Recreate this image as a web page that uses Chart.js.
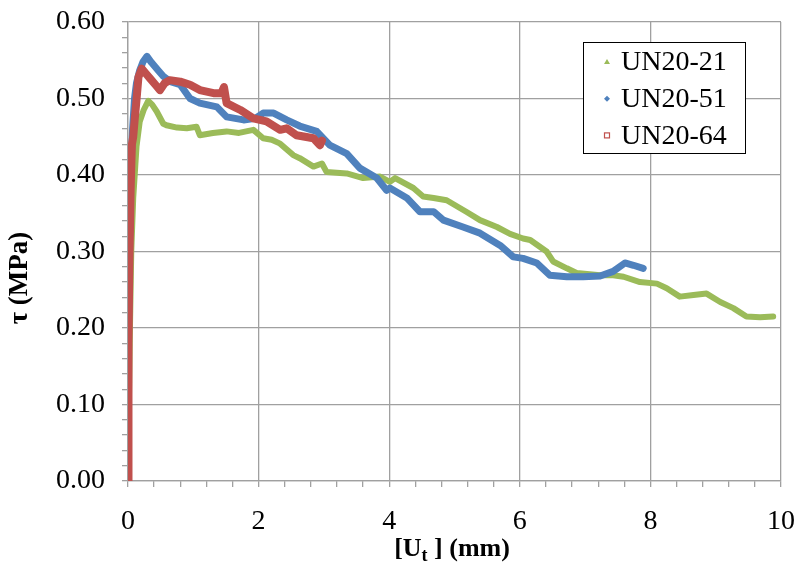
<!DOCTYPE html>
<html lang="en">
<head>
    <meta charset="UTF-8">
    <title>UN20 shear stress vs slip</title>
    <style>
        body {
            margin: 0;
            background: #ffffff;
        }
        #wrap {
            width: 799px;
            height: 567px;
        }
    </style>
</head>
<body>
    <div id="wrap">
        <canvas id="chart" width="799" height="567"></canvas>
    </div>

    <script src="https://cdn.jsdelivr.net/npm/chart.js"></script>

    <script>
        // series names
        const seriesNames = ['UN20-21', 'UN20-51', 'UN20-64'];

        // UN20-21 (green)
        const un21X = [0, 0.01, 0.03, 0.05, 0.08, 0.11, 0.13, 0.18, 0.24, 0.31, 0.37, 0.44, 0.54, 0.59, 0.75,
            0.90, 1.05, 1.10, 1.30, 1.51, 1.70, 1.92, 2.07, 2.20, 2.33, 2.53, 2.63, 2.84, 2.97, 3.04,
            3.35, 3.60, 3.86, 4.01, 4.09, 4.37, 4.52, 4.68, 4.88, 5.18, 5.39, 5.65, 5.85, 6.05, 6.16,
            6.41, 6.51, 6.72, 6.87, 7.23, 7.43, 7.59, 7.84, 8.10, 8.25, 8.45, 8.66, 8.86, 9.07, 9.27,
            9.47, 9.68, 9.88];
        const un21Y = [0, 0.08, 0.20, 0.30, 0.37, 0.41, 0.437, 0.47, 0.485, 0.497, 0.492, 0.483, 0.467, 0.465, 0.462,
            0.461, 0.463, 0.452, 0.455, 0.457, 0.455, 0.459, 0.448, 0.446, 0.441, 0.426, 0.422, 0.411, 0.415, 0.404,
            0.402, 0.396, 0.398, 0.391, 0.396, 0.383, 0.372, 0.370, 0.367, 0.352, 0.341, 0.332, 0.323, 0.317, 0.315,
            0.300, 0.287, 0.278, 0.272, 0.269, 0.269, 0.267, 0.260, 0.258, 0.252, 0.241, 0.243, 0.245, 0.234, 0.226,
            0.215, 0.214, 0.215];

        // UN20-51 (blue)
        const un51X = [0, 0.005, 0.01, 0.02, 0.04, 0.07, 0.10, 0.13, 0.18, 0.23, 0.29, 0.36, 0.46, 0.54, 0.65,
            0.80, 0.95, 1.10, 1.36, 1.51, 1.77, 1.95, 2.07, 2.23, 2.43, 2.63, 2.89, 3.09, 3.35, 3.55,
            3.81, 3.96, 4.01, 4.27, 4.47, 4.68, 4.83, 5.13, 5.39, 5.70, 5.90, 6.05, 6.26, 6.46, 6.72,
            6.97, 7.23, 7.43, 7.61, 7.74, 7.89];
        const un51Y = [0, 0.10, 0.20, 0.30, 0.40, 0.46, 0.50, 0.52, 0.537, 0.548, 0.555, 0.547, 0.537, 0.529, 0.522,
            0.518, 0.500, 0.494, 0.489, 0.476, 0.472, 0.474, 0.481, 0.481, 0.472, 0.464, 0.457, 0.439, 0.428, 0.409,
            0.396, 0.380, 0.383, 0.370, 0.352, 0.352, 0.341, 0.332, 0.324, 0.308, 0.293, 0.291, 0.285, 0.269, 0.267,
            0.267, 0.268, 0.274, 0.285, 0.282, 0.278];

        // UN20-64 (red)
        const un64X = [0, 0.005, 0.01, 0.02, 0.04, 0.06, 0.08, 0.10, 0.13, 0.16, 0.21, 0.27, 0.34, 0.42, 0.49,
            0.56, 0.64, 0.80, 0.95, 1.10, 1.31, 1.43, 1.47, 1.51, 1.72, 1.92, 2.12, 2.33, 2.43, 2.58,
            2.84, 2.94, 2.97];
        const un64Y = [0, 0.08, 0.18, 0.28, 0.38, 0.44, 0.45, 0.47, 0.498, 0.528, 0.539, 0.533, 0.526, 0.518, 0.511,
            0.52, 0.524, 0.522, 0.518, 0.511, 0.507, 0.507, 0.515, 0.494, 0.485, 0.474, 0.470, 0.459, 0.461, 0.452,
            0.448, 0.439, 0.445];

        const xTicksMajor = [0, 2, 4, 6, 8, 10];
        const yTicksMajor = [0.00, 0.10, 0.20, 0.30, 0.40, 0.50, 0.60];
        const yTitle = 'τ (MPa)';

        const colors = ['#9BBB59', '#4F81BD', '#C0504D'];
        const gridGray = '#A0A0A0';
        const serif = '"Liberation Serif", "Times New Roman", serif';

        function pairs(xs, ys) {
            return xs.map((x, i) => ({ x: x, y: ys[i] }));
        }

        function isMajor(v, list) {
            return list.some(m => Math.abs(m - v) < 1e-6);
        }

        function drawMarker(ctx, kind, x, y, color) {
            ctx.fillStyle = color;
            ctx.strokeStyle = color;
            ctx.beginPath();
            if (kind === 0) {
                ctx.moveTo(x, y - 3);
                ctx.lineTo(x + 3, y + 2);
                ctx.lineTo(x - 3, y + 2);
                ctx.closePath();
                ctx.fill();
            } else if (kind === 1) {
                ctx.moveTo(x, y - 3);
                ctx.lineTo(x + 3, y);
                ctx.lineTo(x, y + 3);
                ctx.lineTo(x - 3, y);
                ctx.closePath();
                ctx.fill();
            } else {
                ctx.lineWidth = 1.2;
                ctx.strokeRect(x - 2.5, y - 2.5, 5, 5);
            }
        }

        // titles and legend drawn on the canvas
        const overlay = {
            id: 'overlay',
            afterDraw(chart) {
                const ctx = chart.ctx;

                // y title
                ctx.save();
                ctx.translate(20, 278);
                ctx.rotate(-Math.PI / 2);
                ctx.font = 'bold 27px ' + serif;
                ctx.fillStyle = '#000';
                ctx.textAlign = 'center';
                ctx.textBaseline = 'middle';
                ctx.fillText(yTitle, 0, 0);
                ctx.restore();

                // x title: [Ut ] (mm) with subscript t
                ctx.save();
                ctx.fillStyle = '#000';
                ctx.textBaseline = 'alphabetic';
                ctx.textAlign = 'left';
                const big = 'bold 26px ' + serif;
                const small = 'bold 18px ' + serif;
                const p1 = '[U', p2 = 't', p3 = ' ] (mm)';
                ctx.font = big;
                const w1 = ctx.measureText(p1).width;
                const w3 = ctx.measureText(p3).width;
                ctx.font = small;
                const w2 = ctx.measureText(p2).width;
                let x0 = 452 - (w1 + w2 + w3) / 2;
                const base = 556;
                ctx.font = big;
                ctx.fillText(p1, x0, base);
                ctx.font = small;
                ctx.fillText(p2, x0 + w1, base + 5);
                ctx.font = big;
                ctx.fillText(p3, x0 + w1 + w2, base);
                ctx.restore();

                // legend
                ctx.save();
                ctx.fillStyle = '#ffffff';
                ctx.fillRect(583.5, 42.5, 162, 111);
                ctx.strokeStyle = '#000000';
                ctx.lineWidth = 1;
                ctx.strokeRect(583.5, 42.5, 162, 111);
                ctx.font = '28px ' + serif;
                ctx.textAlign = 'left';
                ctx.textBaseline = 'middle';
                seriesNames.forEach((name, i) => {
                    const cy = 62 + i * 36.7;
                    drawMarker(ctx, i, 607, cy, colors[i]);
                    ctx.fillStyle = '#000';
                    ctx.fillText(name, 621, cy + 1);
                });
                ctx.restore();
            }
        };

        new Chart(document.getElementById('chart').getContext('2d'), {
            type: 'scatter',
            data: {
                datasets: [
                    {
                        label: seriesNames[0],
                        data: pairs(un21X, un21Y),
                        borderColor: colors[0],
                        backgroundColor: colors[0],
                        borderWidth: 6,
                        order: 3
                    },
                    {
                        label: seriesNames[1],
                        data: pairs(un51X, un51Y),
                        borderColor: colors[1],
                        backgroundColor: colors[1],
                        borderWidth: 7,
                        order: 2
                    },
                    {
                        label: seriesNames[2],
                        data: pairs(un64X, un64Y),
                        borderColor: colors[2],
                        backgroundColor: colors[2],
                        borderWidth: 8,
                        order: 1
                    }
                ]
            },
            options: {
                responsive: false,
                animation: false,
                showLine: true,
                elements: {
                    line: { tension: 0, borderCapStyle: 'round', borderJoinStyle: 'round' },
                    point: { radius: 0, hoverRadius: 0 }
                },
                layout: {
                    padding: { left: 0, right: 18, top: 22, bottom: 0 }
                },
                plugins: {
                    legend: { display: false },
                    tooltip: { enabled: false }
                },
                scales: {
                    x: {
                        type: 'linear',
                        min: 0,
                        max: 10,
                        afterFit: scale => {
                            scale.height = 86;
                            scale.paddingLeft = 0;
                            scale.paddingRight = 0;
                        },
                        border: { color: gridGray, width: 1.3 },
                        grid: {
                            color: c => isMajor(c.tick.value, xTicksMajor) ? gridGray : 'rgba(0,0,0,0)',
                            tickColor: gridGray,
                            tickLength: 6,
                            lineWidth: 1.3
                        },
                        ticks: {
                            stepSize: 0.4,
                            autoSkip: false,
                            maxRotation: 0,
                            padding: 18,
                            color: '#000',
                            font: { family: serif, size: 28 },
                            callback: v => isMajor(v, xTicksMajor) ? String(Math.round(v)) : ''
                        }
                    },
                    y: {
                        min: 0,
                        max: 0.6,
                        afterFit: scale => {
                            scale.width = 128;
                            scale.paddingTop = 0;
                            scale.paddingBottom = 0;
                        },
                        border: { color: gridGray, width: 1.3 },
                        grid: {
                            color: c => isMajor(c.tick.value, yTicksMajor) ? gridGray : 'rgba(0,0,0,0)',
                            tickColor: gridGray,
                            tickLength: 6,
                            lineWidth: 1.3
                        },
                        ticks: {
                            stepSize: 0.02,
                            autoSkip: false,
                            padding: 17,
                            color: '#000',
                            font: { family: serif, size: 28 },
                            callback: v => isMajor(v, yTicksMajor) ? v.toFixed(2) : ''
                        }
                    }
                }
            },
            plugins: [overlay]
        });
    </script>
</body>
</html>
